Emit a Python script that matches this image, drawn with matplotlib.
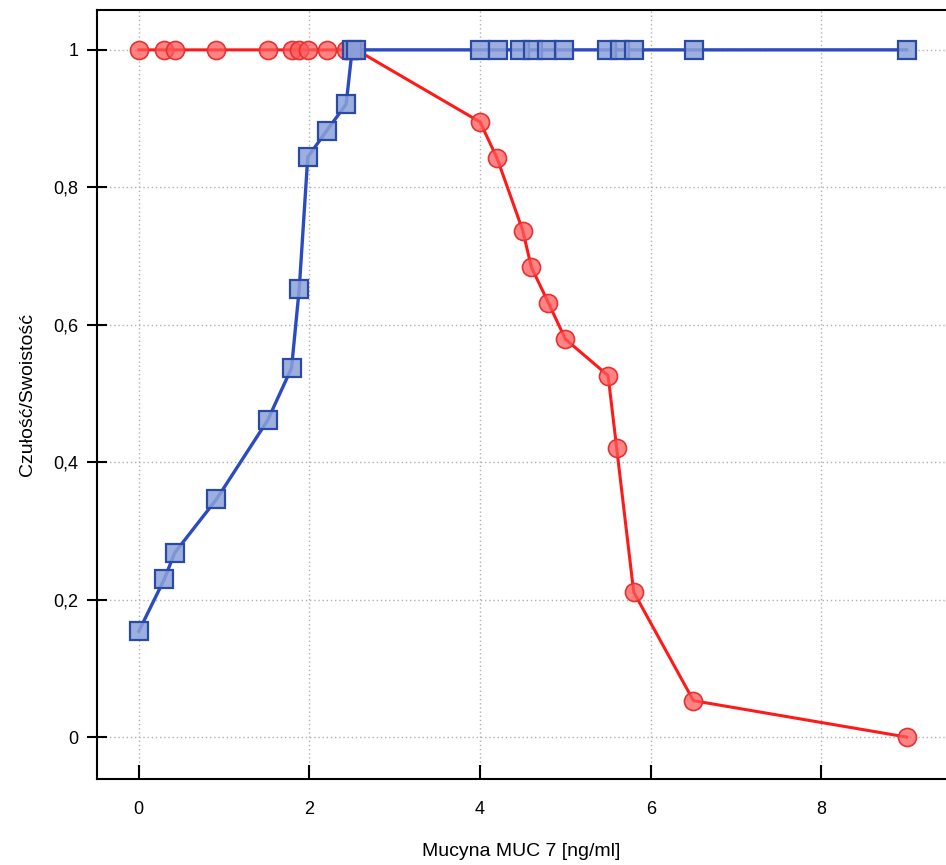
import matplotlib
matplotlib.use("Agg")
import matplotlib.pyplot as plt

# Data
red_x = [0, 0.3, 0.42, 0.91, 1.51, 1.79, 1.88, 1.98, 2.2, 2.43, 2.5, 2.55,
         4.0, 4.2, 4.5, 4.6, 4.8, 5.0, 5.5, 5.6, 5.8, 6.5, 9.0]
red_y = [1, 1, 1, 1, 1, 1, 1, 1, 1, 1, 1, 1,
         0.895, 0.842, 0.737, 0.684, 0.632, 0.579, 0.526, 0.421, 0.211, 0.053, 0.0]
blue_x = [0, 0.3, 0.42, 0.91, 1.51, 1.79, 1.88, 1.98, 2.2, 2.43, 2.5, 2.55,
          4.0, 4.21, 4.47, 4.62, 4.78, 4.98, 5.49, 5.64, 5.8, 6.51, 9.0]
blue_y = [0.154, 0.23, 0.268, 0.346, 0.461, 0.537, 0.652, 0.844, 0.882, 0.921, 1.0, 1.0,
          1, 1, 1, 1, 1, 1, 1, 1, 1, 1, 1]
x_ticks = [0, 2, 4, 6, 8]
x_ticklabels = ["0", "2", "4", "6", "8"]
y_ticks = [0, 0.2, 0.4, 0.6, 0.8, 1.0]
y_ticklabels = ["0", "0,2", "0,4", "0,6", "0,8", "1"]

plt.rcParams['font.family'] = ['Liberation Sans', 'DejaVu Sans']

fig = plt.figure(figsize=(9.46, 8.65), dpi=100)
W, H = 946, 865
left, right, top, bottom = 97, 946, 10, 779
ax = fig.add_axes([left / W, 1 - bottom / H, (right - left) / W, (bottom - top) / H])

ax.plot(red_x, red_y, color='#ff1a1a', lw=2.2, marker='o', ms=13,
        mfc=(1.0, 0.35, 0.35, 0.75), mec='#e83030', mew=1.2, zorder=3)
ax.plot(blue_x, blue_y, color='#2a4cc0', lw=2.4, marker='s', ms=13.5,
        mfc=(0.55, 0.63, 0.85, 0.85), mec='#2a4aa8', mew=1.6, zorder=4)

ax.set_xlim(-0.49, 9.46)
ax.set_ylim(-0.061, 1.058)
ax.set_xticks(x_ticks)
ax.set_xticklabels(x_ticklabels)
ax.set_yticks(y_ticks)
ax.set_yticklabels(y_ticklabels)
ax.grid(True, color='#b0b0b0', linestyle=(0, (1, 2)), lw=1)
ax.set_axisbelow(True)

ax.tick_params(axis='x', direction='in', length=10, width=1.5, labelsize=13, pad=16)
ax.tick_params(axis='y', direction='inout', length=15, width=1.5, labelsize=13, pad=6)
for s in ['left', 'bottom', 'top']:
    ax.spines[s].set_linewidth(1.5)
ax.spines['right'].set_visible(False)

ax.set_xlabel("Mucyna MUC 7 [ng/ml]", fontsize=14, labelpad=18)
ax.set_ylabel("Czułość/Swoistość", fontsize=14, labelpad=12)

fig.savefig("out.png", dpi=100)
